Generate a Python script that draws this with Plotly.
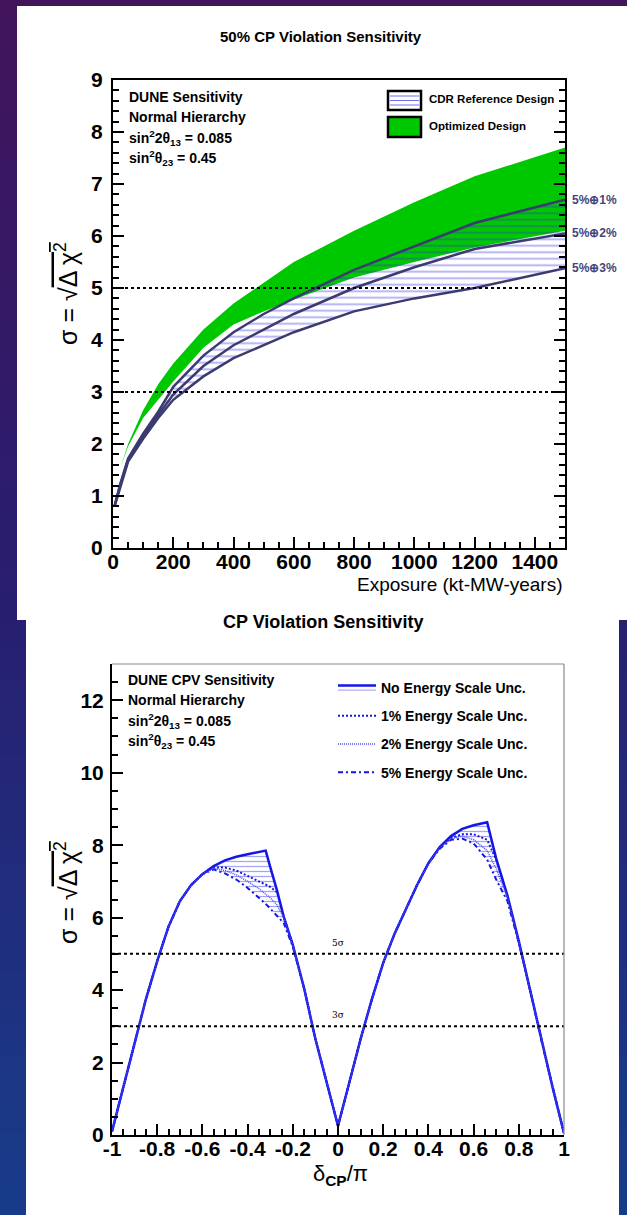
import plotly.graph_objects as go

W, H = 627, 1215

# ---------------- Top chart data (50% CP violation sensitivity vs exposure) ----------------
exposure = [5, 25, 50, 100, 150, 200, 300, 400, 500, 600, 800, 1000, 1200, 1500]
cdr_1pct = [0.8, 1.25, 1.72, 2.2, 2.62, 3.1, 3.7, 4.15, 4.5, 4.8, 5.35, 5.8, 6.25, 6.7]
cdr_2pct = [0.8, 1.23, 1.69, 2.15, 2.56, 2.95, 3.5, 3.9, 4.2, 4.5, 5.0, 5.4, 5.75, 6.05]
cdr_3pct = [0.8, 1.2, 1.66, 2.1, 2.5, 2.85, 3.3, 3.65, 3.9, 4.15, 4.55, 4.8, 5.0, 5.38]
cdr_labels = ["5%⊕1%", "5%⊕2%", "5%⊕3%"]

opt_exposure = [25, 50, 100, 150, 200, 300, 400, 500, 600, 800, 1000, 1200, 1500]
opt_upper = [1.55, 2.0, 2.65, 3.15, 3.55, 4.2, 4.7, 5.1, 5.5, 6.1, 6.65, 7.15, 7.7]
opt_lower = [1.55, 1.95, 2.5, 2.85, 3.2, 3.85, 4.3, 4.55, 4.78, 5.2, 5.5, 5.78, 6.1]

top_x_ticks = [0, 200, 400, 600, 800, 1000, 1200, 1400]
top_y_ticks = [0, 1, 2, 3, 4, 5, 6, 7, 8, 9]
sigma_levels = [3, 5]

# ---------------- Bottom chart data (sensitivity vs delta_CP) ----------------
dcp = [-1, -0.95, -0.9, -0.85, -0.8, -0.75, -0.7, -0.65, -0.6, -0.55, -0.5, -0.45,
       -0.4, -0.35, -0.32, -0.3, -0.27, -0.24, -0.2, -0.15, -0.1, -0.05, 0,
       0.05, 0.1, 0.15, 0.2, 0.25, 0.3, 0.35, 0.4, 0.45, 0.5, 0.55, 0.6, 0.66,
       0.7, 0.75, 0.8, 0.85, 0.9, 0.95, 1]
no_escale = [0.1, 1.3, 2.55, 3.75, 4.8, 5.75, 6.45, 6.9, 7.2, 7.42, 7.58, 7.68,
             7.75, 7.8, 7.85, 7.4, 6.75, 6.02, 5.25, 4.05, 2.65, 1.45, 0.25,
             1.45, 2.65, 3.75, 4.75, 5.55, 6.25, 6.9, 7.5, 7.95, 8.25, 8.45, 8.55, 8.63,
             7.63, 6.6, 5.35, 4.0, 2.6, 1.3, 0.05]
escale_1pct = [0.1, 1.3, 2.55, 3.75, 4.8, 5.75, 6.45, 6.9, 7.2, 7.38, 7.38, 7.3,
               7.15, 7.0, 6.92, 6.85, 6.7, 6.02, 5.25, 4.05, 2.65, 1.45, 0.25,
               1.45, 2.65, 3.75, 4.75, 5.55, 6.25, 6.9, 7.5, 7.93, 8.2, 8.3, 8.3, 8.15,
               7.6, 6.6, 5.35, 4.0, 2.6, 1.3, 0.05]
escale_2pct = [0.1, 1.3, 2.55, 3.75, 4.8, 5.75, 6.45, 6.9, 7.2, 7.36, 7.3, 7.18,
               7.0, 6.8, 6.65, 6.55, 6.35, 6.0, 5.25, 4.05, 2.65, 1.45, 0.25,
               1.45, 2.65, 3.75, 4.75, 5.55, 6.25, 6.9, 7.5, 7.92, 8.18, 8.25, 8.15, 7.85,
               7.35, 6.55, 5.35, 4.0, 2.6, 1.3, 0.05]
escale_5pct = [0.1, 1.3, 2.55, 3.75, 4.8, 5.75, 6.45, 6.9, 7.2, 7.33, 7.22, 7.05,
               6.82, 6.55, 6.38, 6.25, 6.05, 5.85, 5.2, 4.05, 2.65, 1.45, 0.25,
               1.45, 2.65, 3.75, 4.75, 5.55, 6.25, 6.9, 7.5, 7.9, 8.15, 8.18, 8.05, 7.6,
               7.05, 6.45, 5.3, 4.0, 2.6, 1.3, 0.05]
bottom_x_ticks = [-1, -0.8, -0.6, -0.4, -0.2, 0, 0.2, 0.4, 0.6, 0.8, 1]
bottom_x_labels = ["-1", "-0.8", "-0.6", "-0.4", "-0.2", "0", "0.2", "0.4", "0.6", "0.8", "1"]
bottom_y_ticks = [0, 2, 4, 6, 8, 10, 12]
legend_names = ["No Energy Scale Unc.", "1% Energy Scale Unc.",
                "2% Energy Scale Unc.", "5% Energy Scale Unc."]

FONT = "Liberation Sans"
NAVY = "#3b3b72"
BLUE = "#1515e8"
GREEN = "#00c800"

fig = go.Figure()

# ---------- top chart traces ----------
fig.add_trace(go.Scatter(x=opt_exposure, y=opt_lower, mode="lines", line=dict(width=0, color=GREEN),
                         showlegend=False, hoverinfo="skip", xaxis="x", yaxis="y"))
fig.add_trace(go.Scatter(x=opt_exposure, y=opt_upper, mode="lines", line=dict(width=0, color=GREEN),
                         fill="tonexty", fillcolor=GREEN, showlegend=False, hoverinfo="skip",
                         xaxis="x", yaxis="y"))
fig.add_trace(go.Scatter(x=exposure, y=cdr_3pct, mode="lines", line=dict(width=2.5, color=NAVY),
                         showlegend=False, hoverinfo="skip", xaxis="x", yaxis="y"))
fig.add_trace(go.Scatter(x=exposure, y=cdr_1pct, mode="lines", line=dict(width=2.5, color=NAVY),
                         fill="tonexty",
                         fillpattern=dict(shape="-", fgcolor="rgba(50,50,225,0.8)",
                                          bgcolor="rgba(0,0,0,0)", size=6.5, solidity=0.28),
                         showlegend=False, hoverinfo="skip", xaxis="x", yaxis="y"))
fig.add_trace(go.Scatter(x=exposure, y=cdr_2pct, mode="lines", line=dict(width=2.5, color=NAVY),
                         showlegend=False, hoverinfo="skip", xaxis="x", yaxis="y"))

# ---------- bottom chart traces ----------
fig.add_trace(go.Scatter(x=dcp, y=escale_5pct, mode="lines", name=legend_names[3],
                         line=dict(width=2, color=BLUE, dash="5px,3px,2px,3px"),
                         legendgroup="g4", legendrank=4, xaxis="x2", yaxis="y2"))
fig.add_trace(go.Scatter(x=dcp, y=no_escale, mode="lines", name=legend_names[0],
                         line=dict(width=2.5, color=BLUE), fill="tonexty",
                         fillpattern=dict(shape="-", fgcolor="rgba(40,40,235,0.85)",
                                          bgcolor="rgba(0,0,0,0)", size=5, solidity=0.25),
                         legendgroup="g1", legendrank=1, xaxis="x2", yaxis="y2"))
fig.add_trace(go.Scatter(x=dcp, y=escale_1pct, mode="lines", name=legend_names[1],
                         line=dict(width=2, color=BLUE, dash="2px,2px"),
                         legendgroup="g2", legendrank=2, xaxis="x2", yaxis="y2"))
fig.add_trace(go.Scatter(x=dcp, y=escale_2pct, mode="lines", name=legend_names[2],
                         line=dict(width=1.5, color="#4d4df0", dash="1px,1px"),
                         legendgroup="g3", legendrank=3, xaxis="x2", yaxis="y2"))

# ---------- background gradient + white panels ----------
stops = [(0, (66, 20, 92)), (600, (40, 30, 112)), (1215, (24, 60, 138))]


def grad(yp):
    for (ya, ca), (yb, cb) in zip(stops[:-1], stops[1:]):
        if ya <= yp <= yb:
            t = (yp - ya) / (yb - ya)
            return "rgb(%d,%d,%d)" % tuple(round(a + (b - a) * t) for a, b in zip(ca, cb))
    return "rgb(%d,%d,%d)" % stops[-1][1]


nb = 45
for i in range(nb):
    y0 = H * i / nb
    y1 = H * (i + 1) / nb
    fig.add_shape(type="rect", xref="paper", yref="paper", x0=0, x1=1,
                  y0=1 - (y1 + 0.5) / H, y1=1 - y0 / H,
                  fillcolor=grad((y0 + y1) / 2), line_width=0, layer="below")


def prect(x0, y0, x1, y1, **kw):
    fig.add_shape(type="rect", xref="paper", yref="paper",
                  x0=x0 / W, x1=x1 / W, y0=1 - y1 / H, y1=1 - y0 / H, **kw)


prect(17, 6, 627, 620, fillcolor="white", line_width=0, layer="below")
prect(26, 620, 619, 1215, fillcolor="white", line_width=0, layer="below")

# reference sigma lines
for lv in sigma_levels:
    fig.add_shape(type="line", xref="x domain", yref="y", x0=0, x1=1, y0=lv, y1=lv,
                  line=dict(color="black", width=2, dash="dot"))
    fig.add_shape(type="line", xref="x2 domain", yref="y2", x0=0, x1=1, y0=lv, y1=lv,
                  line=dict(color="black", width=2, dash="dot"))

# thin gray frame (top / right) for bottom chart
fig.add_shape(type="line", xref="x2 domain", yref="y2 domain", x0=0, x1=1, y0=1, y1=1,
              line=dict(color="#8a8a8a", width=1.2))
fig.add_shape(type="line", xref="x2 domain", yref="y2 domain", x0=1, x1=1, y0=0, y1=1,
              line=dict(color="#8a8a8a", width=1.2))

# top legend boxes (manual)
prect(388, 91, 421, 110, fillcolor="white", line=dict(color="black", width=2.5))
for yy in [96, 100.5, 105]:
    fig.add_shape(type="line", xref="paper", yref="paper", x0=390 / W, x1=419 / W,
                  y0=1 - yy / H, y1=1 - yy / H, line=dict(color="#7070e8", width=1))
prect(388, 117, 421, 137, fillcolor=GREEN, line=dict(color="black", width=2.5))


def ptext(x, y, text, size, bold=True, xanchor="left", color="black", angle=0, family=FONT):
    fig.add_annotation(xref="paper", yref="paper", x=x / W, y=1 - y / H, text=text,
                       showarrow=False, xanchor=xanchor, yanchor="middle", textangle=angle,
                       font=dict(family=family, size=size, color=color,
                                 weight="bold" if bold else "normal"))


# titles
ptext(321, 37, "50% CP Violation Sensitivity", 15, xanchor="center")
ptext(323, 622, "CP Violation Sensitivity", 18, xanchor="center")

# top info text
ptext(127, 97, "DUNE Sensitivity", 14)
ptext(127, 117, "Normal Hierarchy", 14)
ptext(127, 138, "sin<sup>2</sup>2θ<sub>13</sub> = 0.085", 14)
ptext(127, 158, "sin<sup>2</sup>θ<sub>23</sub> = 0.45", 14)
ptext(427, 99, "CDR Reference Design", 11.5)
ptext(427, 126, "Optimized Design", 11.5)

# bottom info text
ptext(126, 680, "DUNE CPV Sensitivity", 14)
ptext(126, 700, "Normal Hierarchy", 14)
ptext(126, 721, "sin<sup>2</sup>2θ<sub>13</sub> = 0.085", 14)
ptext(126, 741, "sin<sup>2</sup>θ<sub>23</sub> = 0.45", 14)

# curve end labels
for lab, series in zip(cdr_labels, [cdr_1pct, cdr_2pct, cdr_3pct]):
    fig.add_annotation(xref="x", yref="y", x=exposure[-1], y=series[-1], text=lab,
                       showarrow=False, xanchor="left", yanchor="middle", xshift=5,
                       font=dict(family=FONT, size=12, color="#45457a", weight="bold"))

# sigma labels bottom
for lv in sigma_levels:
    fig.add_annotation(xref="x2", yref="y2", x=0, y=lv, text="%dσ" % lv, showarrow=False,
                       xanchor="center", yanchor="bottom", yshift=4,
                       font=dict(family="DejaVu Serif", size=9, color="black"))

# axis titles
ytitle = "σ = √<span style='text-decoration:overline'>Δ χ<sup>2</sup></span>"
ptext(66, 294, ytitle, 25, bold=False, xanchor="center", angle=-90)
ptext(66, 893, ytitle, 25, bold=False, xanchor="center", angle=-90)
ptext(565, 585, "Exposure (kt-MW-years)", 19, bold=False, xanchor="right")
ptext(340, 1175, "δ<sub><b>CP</b></sub>/π", 22, bold=False, xanchor="center")

tickfont = dict(family=FONT, size=21, color="black", weight="bold")
common = dict(showgrid=False, zeroline=False, showline=True, linecolor="black", linewidth=2,
              ticks="inside", tickcolor="black", tickwidth=2, ticklen=11, tickfont=tickfont,
              automargin=False)

fig.update_layout(
    width=W, height=H, margin=dict(l=0, r=0, t=0, b=0),
    paper_bgcolor="rgb(40,30,112)", plot_bgcolor="rgba(0,0,0,0)",
    xaxis=dict(domain=[113 / W, 565 / W], anchor="y", range=[0, 1500], mirror=True,
               tickvals=top_x_ticks, ticklabelstandoff=-6,
               minor=dict(dtick=50, tick0=0, ticks="inside", ticklen=6, tickwidth=1.5, tickcolor="black"),
               **common),
    yaxis=dict(domain=[1 - 548 / H, 1 - 80 / H], anchor="x", range=[0, 9], mirror="ticks",
               tickvals=top_y_ticks, ticklabelstandoff=4,
               minor=dict(dtick=0.2, tick0=0, ticks="inside", ticklen=6, tickwidth=1.5, tickcolor="black"),
               **common),
    xaxis2=dict(domain=[112 / W, 564 / W], anchor="y2", range=[-1, 1], mirror=False,
                tickvals=bottom_x_ticks, ticktext=bottom_x_labels, ticklabelstandoff=-6,
                minor=dict(dtick=0.05, tick0=0, ticks="inside", ticklen=6, tickwidth=1.5, tickcolor="black"),
                **common),
    yaxis2=dict(domain=[1 - 1135 / H, 1 - 664 / H], anchor="x2", range=[0, 13], mirror=False,
                tickvals=bottom_y_ticks, ticklabelstandoff=2,
                minor=dict(dtick=0.5, tick0=0, ticks="inside", ticklen=6, tickwidth=1.5, tickcolor="black"),
                **common),
    showlegend=True,
    legend=dict(x=333 / W, y=1 - 672 / H, xanchor="left", yanchor="top",
                bgcolor="rgba(0,0,0,0)", borderwidth=0, tracegroupgap=7, itemwidth=38,
                font=dict(family=FONT, size=14, color="black", weight="bold")),
)

fig.write_html(
    "out.html",
    config={"displayModeBar": False},
    post_script="document.body.style.margin='0';document.body.style.padding='0';"
                "document.body.style.overflow='hidden';"
                "document.documentElement.style.overflow='hidden';",
)
